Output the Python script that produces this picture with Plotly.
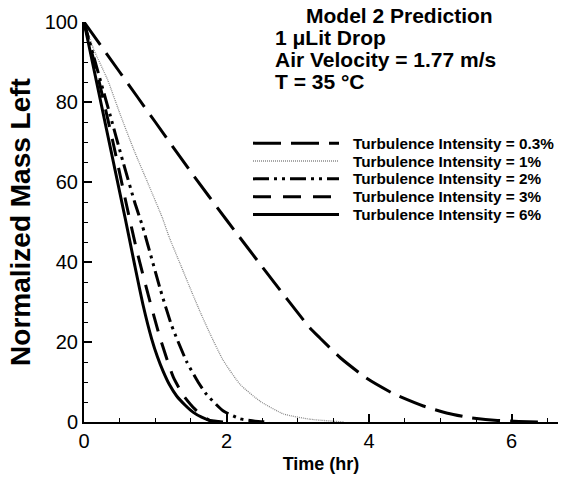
import plotly.graph_objects as go

# ---------------- data ----------------
labels = ["Turbulence Intensity = 0.3%", "Turbulence Intensity = 1%",
          "Turbulence Intensity = 2%", "Turbulence Intensity = 3%",
          "Turbulence Intensity = 6%"]

t03 = [0, 0.5, 1.0, 1.5, 2.0, 2.5, 2.85, 3.17, 3.31, 3.6, 3.96, 4.35, 4.76, 5.1, 5.41, 5.8, 6.1, 6.4]
m03 = [100, 87.5, 75, 62.5, 50.5, 38.8, 30.7, 23.5, 21, 16, 11, 7, 4, 2.2, 1.1, 0.4, 0.15, 0]

t1 = [0, 0.14, 0.33, 0.51, 0.7, 0.89, 1.1, 1.2, 1.35, 1.5, 1.63, 1.77, 1.95, 2.19, 2.47, 2.8, 3.17, 3.65]
m1 = [100, 93, 85.6, 76.8, 68, 60, 51, 46, 39.5, 33, 27.5, 22, 15.5, 9.4, 5.2, 2.0, 0.7, 0]

t2 = [0, 0.37, 0.54, 0.71, 0.82, 0.9, 1.07, 1.23, 1.44, 1.6, 1.72, 1.95, 2.19, 2.4, 2.6]
m2 = [100, 76.5, 65.5, 55, 49, 44, 33.2, 24.1, 15.1, 10, 6.9, 2.8, 0.8, 0.2, 0]

t3 = [0, 0.2, 0.4, 0.6, 0.739, 0.902, 1.066, 1.253, 1.4, 1.557, 1.77, 1.9]
m3 = [100, 86, 70.5, 54, 43, 31.7, 21.1, 11.2, 6.5, 3.2, 0.3, 0]

t6 = [0, 0.3, 0.575, 0.715, 0.832, 0.949, 1.03, 1.112, 1.2, 1.30, 1.42, 1.534, 1.65, 1.768, 1.95]
m6 = [100, 74.5, 51.2, 38.9, 29.0, 20.8, 16.3, 12.6, 9.3, 6.5, 4.2, 2.4, 1.2, 0.4, 0]

title_lines = ["Model 2 Prediction", "1 μLit Drop", "Air Velocity = 1.77 m/s", "T = 35 °C"]

# ---------------- styles ----------------
series = [
    (t03, m03, dict(color="black", width=3, dash="28px,10px")),
    (t1, m1, dict(color="#8a8a8a", width=1.3, dash="1px,1px")),
    (t2, m2, dict(color="black", width=3, dash="16px,5px,3px,5px,3px,5px")),
    (t3, m3, dict(color="black", width=3, dash="18px,12px")),
    (t6, m6, dict(color="black", width=3, dash="solid")),
]

W, H = 565, 478
L, R, T, B = 84, 7, 22, 50
pw, ph = W - L - R, H - T - B


def px2paper(px, py):
    return (px - L) / pw, (H - B - py) / ph


fig = go.Figure()
for (tx, my, ln), lab in zip(series, labels):
    fig.add_trace(go.Scatter(x=tx, y=my, mode="lines", line=dict(**ln, shape="spline", smoothing=0.5),
                             name=lab, showlegend=False))

FONT = "Liberation Sans, Arial, sans-serif"

# manual legend (long line samples as in the reference)
shapes = []
annotations = []
row0, drow = 145, 18.1
for i, ((_, _, ln), lab) in enumerate(zip(series, labels)):
    py = row0 + i * drow
    x0, y0 = px2paper(253, py)
    x1, _ = px2paper(339, py)
    shapes.append(dict(type="line", xref="paper", yref="paper", x0=x0, x1=x1, y0=y0, y1=y0,
                       line=dict(color=ln["color"], width=ln["width"], dash=ln["dash"])))
    tx, ty = px2paper(351, py)
    annotations.append(dict(xref="paper", yref="paper", x=tx, y=ty, xanchor="left", yanchor="middle",
                            text="<b>" + lab + "</b>", showarrow=False,
                            font=dict(family=FONT, size=15.3, color="black")))

# title block
tpos = [(399, 15, "center"), (273, 37.5, "left"), (273, 60, "left"), (273, 82.5, "left")]
for (px, py, anc), txt in zip(tpos, title_lines):
    ax, ay = px2paper(px, py)
    annotations.append(dict(xref="paper", yref="paper", x=ax, y=ay, xanchor=anc, yanchor="middle",
                            text="<b>" + txt + "</b>", showarrow=False,
                            font=dict(family=FONT, size=21, color="black")))

axis_common = dict(showline=True, linecolor="black", linewidth=2, showgrid=False, zeroline=False,
                   ticks="inside", ticklen=8, tickwidth=2, tickcolor="black",
                   tickfont=dict(family=FONT, size=20, color="black"), mirror=False)

fig.update_layout(
    width=W, height=H,
    margin=dict(l=L, r=R, t=T, b=B, pad=0),
    paper_bgcolor="white", plot_bgcolor="white",
    xaxis=dict(range=[0, 6.65], tick0=0, dtick=2,
               minor=dict(dtick=0.5, ticks="inside", ticklen=4, tickwidth=1, tickcolor="black"),
               title=dict(text="<b>Time (hr)</b>", font=dict(family=FONT, size=18, color="black"), standoff=6),
               **axis_common),
    yaxis=dict(range=[0, 100], tick0=0, dtick=20,
               minor=dict(dtick=5, ticks="inside", ticklen=4, tickwidth=1, tickcolor="black"),
               title=dict(text="<b>Normalized Mass Left</b>", font=dict(family=FONT, size=28, color="black"), standoff=6),
               **axis_common),
    shapes=shapes,
    annotations=annotations,
    showlegend=False,
)

fig.write_html("out.html")
